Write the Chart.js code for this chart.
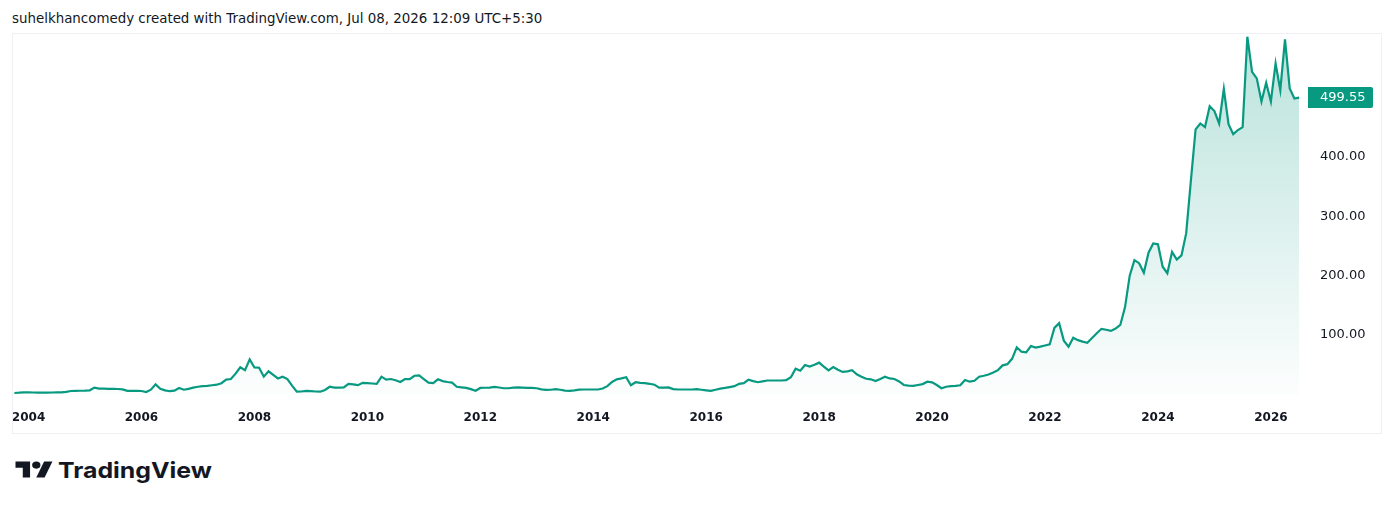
<!DOCTYPE html>
<html>
<head>
<meta charset="utf-8">
<script src="https://cdn.jsdelivr.net/npm/chart.js@4.4.1/dist/chart.umd.min.js"></script>
<style>
  html, body { margin: 0; padding: 0; background: #ffffff; }
  body { width: 1394px; height: 509px; position: relative; overflow: hidden; }
  #hdr { position: absolute; left: 12px; top: 10px; font-family: "DejaVu Sans", sans-serif; font-size: 13.4px; color: #131722; white-space: nowrap; line-height: 18px; }
  #box { position: absolute; left: 12px; top: 33px; width: 1370px; height: 401px; box-sizing: border-box; border: 1px solid #eef0f3; }
  #c { display: block; }
  #logo { position: absolute; left: 0; top: 450px; }
</style>
</head>
<body>
<div id="hdr">suhelkhancomedy created with TradingView.com, Jul 08, 2026 12:09 UTC+5:30</div>
<div id="box"><canvas id="c" width="1368" height="399"></canvas></div>
<svg id="logo" width="240" height="45" viewBox="0 0 240 45">
  <g transform="translate(15.5,8) scale(1.04,0.89)" fill="#131722">
    <path d="M14 22H7V11H0V4h14v18z"/>
    <path d="M28 22h-8l7.5-18h8L28 22z"/>
    <circle cx="20" cy="8" r="4"/>
  </g>
  <text x="58" y="28" font-family="Inter, 'DejaVu Sans', sans-serif" font-weight="700" font-size="22" fill="#131722" textLength="154" lengthAdjust="spacingAndGlyphs">TradingView</text>
</svg>
<script>
// Monthly closes, Oct 2003 .. Jul 2026
const startYear = 2003;
const startMonth = 10;
const closeValues = [
  2.5, 3.0, 3.7,                                                        // 2003 Oct-Dec
  3.5, 3.3, 3.0, 3.0, 3.2, 3.3, 3.5, 3.7, 4.5, 5.9, 6.2, 6.3,           // 2004
  6.4, 7.0, 11.5, 10.0, 9.8, 9.5, 9.3, 9.2, 8.5, 6.0, 6.0, 6.0,         // 2005
  5.9, 4.2, 8.0, 17.0, 9.5, 7.0, 5.5, 6.5, 11.0, 8.0, 9.5, 11.5,        // 2006
  13.0, 14.0, 14.5, 15.5, 16.5, 19.0, 25.0, 26.0, 35.0, 45.7, 41.0, 59.0, // 2007
  45.5, 45.0, 30.0, 39.0, 33.0, 27.0, 30.0, 26.0, 15.0, 4.7, 5.0, 5.9,  // 2008
  5.5, 5.0, 4.7, 7.5, 13.0, 11.5, 11.5, 11.8, 18.0, 17.0, 15.7, 19.6,   // 2009
  19.0, 18.5, 18.0, 30.0, 25.0, 26.0, 24.0, 21.0, 26.0, 26.0, 31.5, 32.0, // 2010
  26.0, 20.0, 19.0, 25.5, 22.5, 21.0, 20.0, 13.0, 12.0, 11.0, 9.0, 6.4, // 2011
  11.0, 11.3, 11.5, 12.8, 11.8, 10.5, 10.5, 11.5, 12.0, 11.5, 11.0, 11.0, // 2012
  10.5, 8.5, 7.6, 8.0, 9.0, 8.0, 6.5, 6.0, 7.0, 8.2, 8.4, 8.4,          // 2013
  8.4, 8.4, 10.0, 14.0, 21.0, 25.5, 27.0, 29.0, 15.5, 20.6, 19.5, 19.0, // 2014
  18.0, 16.5, 11.5, 11.5, 12.0, 9.0, 8.4, 8.4, 8.4, 8.4, 9.0, 8.0,      // 2015
  7.0, 6.0, 8.0, 9.8, 11.0, 12.5, 14.0, 18.0, 19.0, 25.0, 22.5, 20.6,   // 2016
  22.0, 23.5, 23.5, 23.5, 23.5, 24.0, 29.0, 43.5, 40.0, 49.6, 47.0, 50.0, // 2017
  53.6, 47.0, 40.7, 46.0, 41.5, 38.0, 39.0, 41.0, 34.0, 30.0, 26.5, 25.5, // 2018
  22.5, 26.0, 30.0, 27.0, 26.0, 22.0, 16.0, 15.0, 14.5, 16.0, 17.5, 21.5, // 2019
  20.5, 16.0, 10.5, 13.0, 14.0, 14.5, 15.5, 24.4, 21.5, 23.0, 30.0, 31.5, // 2020
  33.5, 37.0, 41.0, 49.0, 51.0, 60.0, 79.4, 72.0, 71.0, 81.6, 79.0, 80.5, // 2021
  82.5, 84.5, 112.0, 120.0, 90.6, 80.4, 95.6, 91.5, 89.0, 87.0, 95.0, 103.0, // 2022
  110.5, 109.0, 107.0, 111.0, 117.0, 146.7, 200.0, 226.0, 221.0, 205.0, 238.6, 254.0, // 2023
  252.7, 215.0, 204.0, 240.0, 227.0, 234.0, 271.0, 360.0, 446.0, 456.0, 450.0, 485.0, // 2024
  477.0, 456.0, 514.0, 455.0, 438.0, 445.0, 450.0, 602.0, 543.0, 532.0, 493.0, 524.6, // 2025
  493.0, 557.0, 512.0, 597.7, 515.0, 498.0, 499.55                     // 2026 Jan-Jul
];
const yearTickLabels = ['2004','2006','2008','2010','2012','2014','2016','2018','2020','2022','2024','2026'];
const priceTickValues = [100, 200, 300, 400];

// month category labels
const monthLabels = closeValues.map((_, i) => {
  const m0 = startMonth - 1 + i;
  const yy = startYear + Math.floor(m0 / 12);
  const mm = (m0 % 12) + 1;
  return yy + '-' + String(mm).padStart(2, '0');
});
const yearTickIndex = yearTickLabels.map(y => monthLabels.indexOf(y + '-01'));

const GREEN = '#089981';
const TEXT = '#131722';

const lastPricePlugin = {
  id: 'lastPrice',
  afterDraw(chart) {
    const ctx = chart.ctx;
    const ys = chart.scales.y;
    const v = closeValues[closeValues.length - 1];
    const py = ys.getPixelForValue(v);
    const x0 = ys.left + 3, w = 65, h = 21;
    ctx.save();
    ctx.fillStyle = GREEN;
    const r = 2;
    ctx.beginPath();
    ctx.moveTo(x0, py - h / 2);
    ctx.lineTo(x0 + w - r, py - h / 2);
    ctx.quadraticCurveTo(x0 + w, py - h / 2, x0 + w, py - h / 2 + r);
    ctx.lineTo(x0 + w, py + h / 2 - r);
    ctx.quadraticCurveTo(x0 + w, py + h / 2, x0 + w - r, py + h / 2);
    ctx.lineTo(x0, py + h / 2);
    ctx.closePath();
    ctx.fill();
    ctx.fillStyle = '#ffffff';
    ctx.font = '13px "DejaVu Sans", sans-serif';
    ctx.textBaseline = 'middle';
    ctx.textAlign = 'left';
    ctx.fillText(v.toFixed(2), x0 + 12, py + 0.5);
    ctx.restore();
  }
};

const zeroPad = (s) => { s.paddingTop = 0; s.paddingBottom = 0; s.paddingLeft = 0; s.paddingRight = 0; };

new Chart(document.getElementById('c'), {
  type: 'line',
  data: {
    datasets: [{
      data: closeValues.map((v, i) => ({ x: i, y: v })),
      borderColor: GREEN,
      borderWidth: 2.2,
      pointRadius: 0,
      tension: 0,
      fill: 'origin',
      backgroundColor: (context) => {
        const chart = context.chart;
        if (!chart.chartArea) return 'rgba(8,153,129,0.1)';
        const ys = chart.scales.y;
        const g = chart.ctx.createLinearGradient(0, ys.getPixelForValue(600), 0, ys.getPixelForValue(0));
        g.addColorStop(0, 'rgba(8,153,129,0.28)');
        g.addColorStop(1, 'rgba(8,153,129,0.01)');
        return g;
      }
    }]
  },
  options: {
    responsive: false,
    animation: false,
    layout: { padding: 0 },
    plugins: { legend: { display: false }, tooltip: { enabled: false } },
    scales: {
      x: {
        type: 'linear',
        min: -0.3,
        max: 274.25,
        grid: { display: false, drawTicks: false },
        border: { display: false },
        afterBuildTicks: (s) => { s.ticks = yearTickIndex.map(v => ({ value: v })); },
        afterFit: (s) => { s.height = 28; zeroPad(s); },
        ticks: {
          autoSkip: false,
          maxRotation: 0,
          padding: 6,
          color: TEXT,
          font: { family: 'DejaVu Sans', size: 12, weight: 'bold' },
          callback: (value, index) => yearTickLabels[index]
        }
      },
      y: {
        position: 'right',
        min: -17.7,
        max: 606.6,
        grid: { display: false, drawTicks: false },
        border: { display: false },
        afterBuildTicks: (s) => { s.ticks = priceTickValues.map(v => ({ value: v })); },
        afterFit: (s) => { s.width = 76; zeroPad(s); },
        ticks: {
          padding: 15,
          color: TEXT,
          font: { family: 'DejaVu Sans', size: 13 },
          callback: (value) => Number(value).toFixed(2)
        }
      }
    }
  },
  plugins: [lastPricePlugin]
});
</script>
</body>
</html>
